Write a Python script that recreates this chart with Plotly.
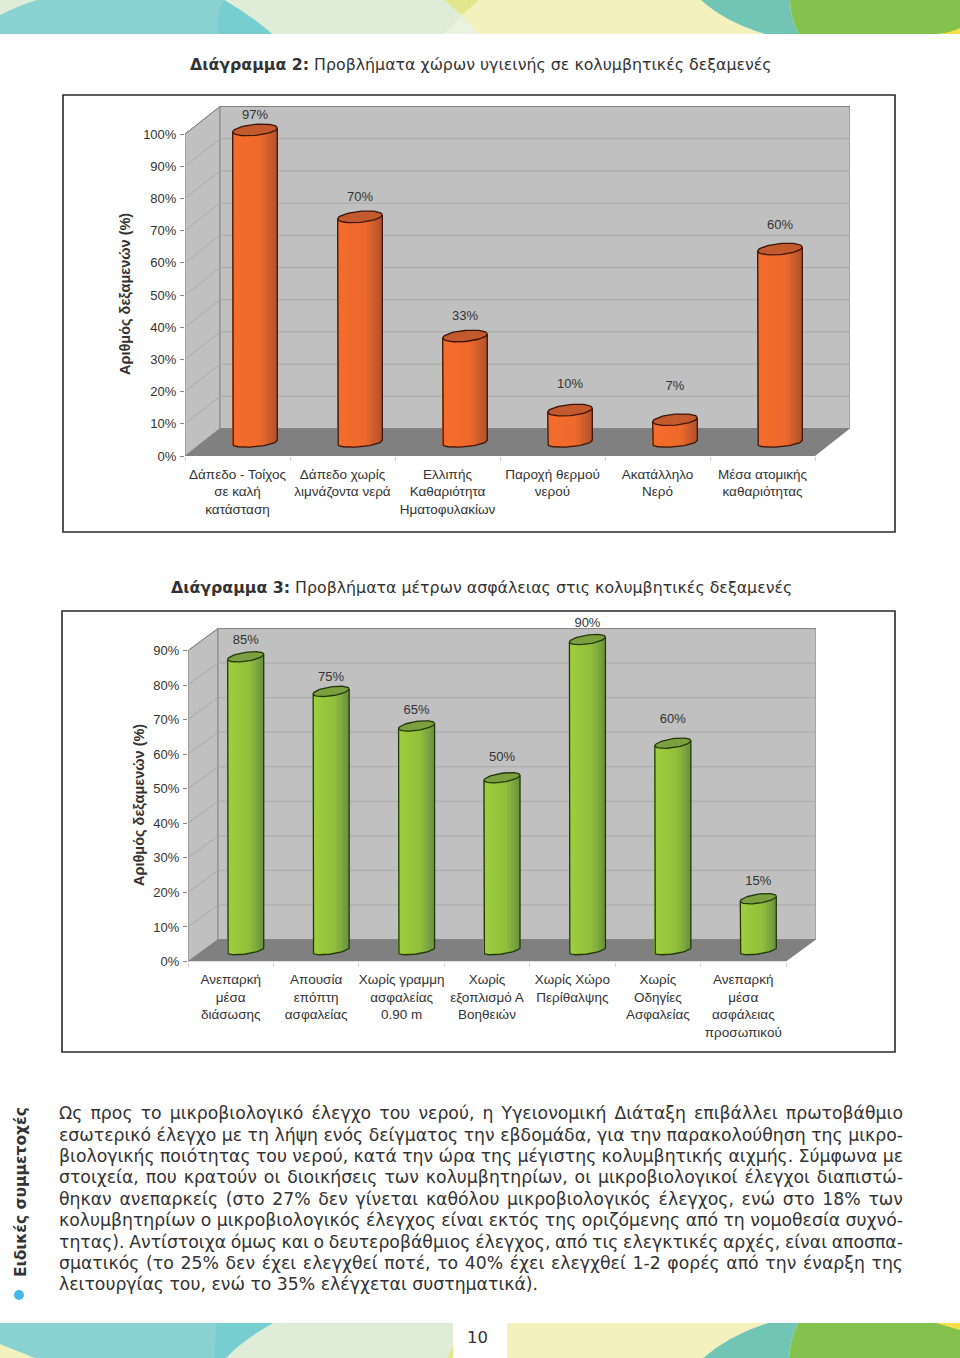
import json
import numpy as np
import plotly.graph_objects as go

# ---------- data ----------
CATS_A = ["Δάπεδο - Τοίχος<br>σε καλή<br>κατάσταση", "Δάπεδο χωρίς<br>λιμνάζοντα νερά",
          "Ελλιπής<br>Καθαριότητα<br>Ηματοφυλακίων", "Παροχή θερμού<br>νερού",
          "Ακατάλληλο<br>Νερό", "Μέσα ατομικής<br>καθαριότητας"]
VALUES_A = [97, 70, 33, 10, 7, 60]
TICKS_A = list(range(0, 101, 10))

CATS_B = ["Ανεπαρκή<br>μέσα<br>διάσωσης", "Απουσία<br>επόπτη<br>ασφαλείας",
          "Χωρίς γραμμη<br>ασφαλείας<br>0.90 m", "Χωρίς<br>εξοπλισμό Α<br>Βοηθειών",
          "Χωρίς Χώρο<br>Περίθαλψης", "Χωρίς<br>Οδηγίες<br>Ασφαλείας",
          "Ανεπαρκή<br>μέσα<br>ασφάλειας<br>προσωπικού"]
VALUES_B = [85, 75, 65, 50, 90, 60, 15]
TICKS_B = list(range(0, 91, 10))

TITLE_A = "<b>Διάγραμμα 2:</b> Προβλήματα χώρων υγιεινής σε κολυμβητικές δεξαμενές"
TITLE_B = "<b>Διάγραμμα 3:</b> Προβλήματα μέτρων ασφάλειας στις κολυμβητικές δεξαμενές"
AXIS_TITLE = "Αριθμός δεξαμενών (%)"
SIDE_TITLE = "<b>Ειδικές συμμετοχές</b>"
PAGE_NO = "10"
PARAGRAPH = [
    "Ως προς το μικροβιολογικό έλεγχο του νερού, η Υγειονομική Διάταξη επιβάλλει πρωτοβάθμιο",
    "εσωτερικό έλεγχο με τη λήψη ενός δείγματος την εβδομάδα, για την παρακολούθηση της μικρο-",
    "βιολογικής ποιότητας του νερού, κατά την ώρα της μέγιστης κολυμβητικής αιχμής. Σύμφωνα με",
    "στοιχεία, που κρατούν οι διοικήσεις των κολυμβητηρίων, οι μικροβιολογικοί έλεγχοι διαπιστώ-",
    "θηκαν ανεπαρκείς (στο 27% δεν γίνεται καθόλου μικροβιολογικός έλεγχος, ενώ στο 18% των",
    "κολυμβητηρίων ο μικροβιολογικός έλεγχος είναι εκτός της οριζόμενης από τη νομοθεσία συχνό-",
    "τητας). Αντίστοιχα όμως και ο δευτεροβάθμιος έλεγχος, από τις ελεγκτικές αρχές, είναι αποσπα-",
    "σματικός (το 25% δεν έχει ελεγχθεί ποτέ, το 40% έχει ελεγχθεί 1-2 φορές από την έναρξη της",
    "λειτουργίας του, ενώ το 35% ελέγχεται συστηματικά).",
]

# ---------- styles ----------
W, H = 960, 1358
PUSHED_BOTTOM = 8  # plotly reserves this much below the plot area here; the page clips it
TXT = "#333333"
ARIAL = "Liberation Sans"
VERD = "DejaVu Sans"
WALL, FLOOR, GRID, EDGE = "#C0C0C0", "#808080", "#A8A8A8", "#858585"
ORANGE = dict(stops=[(-1, "#F56D2C"), (0.25, "#EE6A2C"), (1, "#B2522D")], top="#C25A2E", line="#3A1408")
GREEN = dict(stops=[(-1, "#9FCF3C"), (0.25, "#92BF3D"), (1, "#6A9240")], top="#7C9F3F", line="#20380C")
LIFT_A = [14, 19, 19, 25, 33, 23]
LIFT_B = [16, 14, 15, 20, 16, 23, 17]
HEADROOM = 24
NSTRIP = 26


def hex2rgb(h):
    return np.array([int(h[i:i + 2], 16) for i in (1, 3, 5)], float)


def ramp(t, stops):
    for (a, ca), (b, cb) in zip(stops, stops[1:]):
        if t <= b:
            m = (t - a) / (b - a)
            c = hex2rgb(ca) * (1 - m) + hex2rgb(cb) * m
            return "rgb(%d,%d,%d)" % tuple(c)
    return stops[-1][1]


fig = go.Figure()
shapes, annos = [], []


def page_poly(path, color):
    shapes.append(dict(type="path", path=path, fillcolor=color, line=dict(width=0),
                       xref="x", yref="y", layer="below"))


def draw_chart(cats, vals, ticks, lifts, ax, geo, col):
    x0, x1, y0, py, dxp, dyp = geo["x0"], geo["x1"], geo["y0"], geo["py"], geo["dxp"], geo["dyp"]
    n = len(cats)
    cw = (x1 - x0) / n
    dx = dxp / cw
    dy = dyp / py
    xa, ya = f"x{ax}", f"y{ax}"
    ytop = y0 - geo["top"] * py - dyp - HEADROOM
    fig.update_layout(**{
        f"xaxis{ax}": dict(
            domain=[x0 / W, (x1 + dxp) / W], range=[-0.5, n - 0.5 + dx], anchor=ya,
            tickmode="array", tickvals=list(range(n)), ticktext=cats, ticks="", showgrid=False,
            zeroline=False, showline=False, tickangle=0, ticklabelstandoff=8,
            tickfont=dict(family=ARIAL, size=13.5, color=TXT),
            minor=dict(tickmode="array", tickvals=[i - 0.5 for i in range(n + 1)], ticks="outside",
                       ticklen=4, tickcolor="#D0D0D0", tickwidth=1, showgrid=False)),
        f"yaxis{ax}": dict(
            domain=[1 - y0 / H, 1 - ytop / H], range=[0, (y0 - ytop) / py], anchor=xa,
            tickmode="array", tickvals=ticks, ticktext=[f"{t}%" for t in ticks], ticks="outside",
            ticklen=4, tickcolor=EDGE, showgrid=False, zeroline=False, showline=False, ticklabelstandoff=1,
            tickfont=dict(family=ARIAL, size=13, color=TXT)),
    })
    L, R = -0.5, n - 0.5
    top = geo["top"]

    def poly(pts, color, lc=None):
        path = "M" + " L".join(f"{a},{b}" for a, b in pts) + " Z"
        shapes.append(dict(type="path", path=path, fillcolor=color, xref=xa, yref=ya, layer="below",
                           line=dict(width=1 if lc else 0, color=lc or color)))

    poly([(L, 0), (L + dx, dy), (L + dx, top + dy), (L, top)], WALL, EDGE)
    poly([(L + dx, dy), (R + dx, dy), (R + dx, top + dy), (L + dx, top + dy)], WALL, EDGE)
    for t in ticks[1:]:
        for a, b, c, d in [(L, t, L + dx, t + dy), (L + dx, t + dy, R + dx, t + dy)]:
            if t == top and a == L + dx:
                continue
            shapes.append(dict(type="line", x0=a, y0=b, x1=c, y1=d, xref=xa, yref=ya, layer="below",
                               line=dict(color=GRID if t != top else EDGE, width=1)))
    poly([(L, 0), (R, 0), (R + dx, dy), (L + dx, dy)], FLOOR)

    # cylinders
    r = geo["r"] / cw
    cxs = np.arange(n) + dx / 2
    v = np.array(vals, float)
    edges = np.linspace(-1, 1, NSTRIP + 1)
    bry, btilt = geo["bry"] / py, geo["tilt"] / py
    try_, ttilt = geo["try"] / py, geo["tilt"] / py
    base_c = dy / 2
    for k in range(NSTRIP):
        t = (edges[k] + edges[k + 1]) / 2
        wd = (edges[k + 1] - edges[k]) * r
        bt = base_c - bry * np.sqrt(max(0, 1 - t * t)) + btilt * t
        fig.add_trace(go.Bar(x=cxs + t * r, y=v + base_c + ttilt * t - bt, base=[bt] * n,
                             width=wd * 1.15, marker=dict(color=ramp(t, col["stops"]), line=dict(width=0)),
                             xaxis=xa, yaxis=ya, hoverinfo="skip", showlegend=False))
    th = np.linspace(0, 2 * np.pi, 61)
    ex, ey, ox, oy = [], [], [], []
    for c, val in zip(cxs, v):
        cy = val + base_c
        ex += list(c + r * np.cos(th)) + [None]
        ey += list(cy + try_ * np.sin(th) + ttilt * np.cos(th)) + [None]
        arc = np.linspace(np.pi, 2 * np.pi, 31)
        ox += [c - r] + list(c + r * np.cos(arc)) + [c + r, None]
        oy += [cy - ttilt] + list(base_c + bry * np.sin(arc) + btilt * np.cos(arc)) + [cy + ttilt, None]
    fig.add_trace(go.Scatter(x=ox, y=oy, mode="lines", line=dict(color=col["line"], width=1.3),
                             xaxis=xa, yaxis=ya, hoverinfo="skip", showlegend=False))
    fig.add_trace(go.Scatter(x=ex, y=ey, mode="lines", fill="toself", fillcolor=col["top"],
                             line=dict(color=col["line"], width=1.3), xaxis=xa, yaxis=ya,
                             hoverinfo="skip", showlegend=False))
    fig.add_trace(go.Scatter(x=cxs, y=v + base_c + np.array(lifts) / py, mode="text",
                             text=[f"{a}%" for a in vals], textposition="middle center",
                             textfont=dict(family=ARIAL, size=13, color=TXT), xaxis=xa, yaxis=ya,
                             hoverinfo="skip", showlegend=False, cliponaxis=False))


# ---------- page background (pixel-unit axes, first subplot so it stays underneath) ----------
fig.update_layout(
    xaxis=dict(domain=[0, 1], range=[0, W], visible=False, fixedrange=True, anchor="y"),
    yaxis=dict(domain=[0, 1], range=[H, 0], visible=False, fixedrange=True, anchor="x"),
)
fig.add_trace(go.Scatter(x=[0], y=[0], xaxis="x", yaxis="y", mode="markers", marker=dict(size=1, opacity=0),
                         hoverinfo="skip", showlegend=False))

P_GREEN, P_YEL, TEAL, TEAL2, TEAL3, LEAF = "#DFEDD8", "#F3F1BE", "#8AD2D2", "#77CDD0", "#72C4B4", "#84C14D"
# top banner
page_poly("M0,0 L470,0 L470,34 L0,34 Z", P_GREEN)
page_poly("M0,15 Q20,5 37,0 L224,0 Q250,15 272,34 L0,34 Z", TEAL)
page_poly("M224,0 Q215,18 219,34 L272,34 Q250,15 224,0 Z", TEAL2)
page_poly("M444,0 L480,0 L462,15 Z", "#E4E68D")
page_poly("M462,15 L444,34 L478,34 Z", "#E8F3E0")
page_poly("M462,15 L480,0 L701,0 Q725,22 765,34 L478,34 Z", P_YEL)
page_poly("M701,0 L790,0 Q790,18 799,34 L765,34 Q725,22 701,0 Z", TEAL3)
page_poly("M960,28 L960,34 L937,34 Z", "#F5E04A")
page_poly("M790,0 L960,0 L960,28 Q950,33 937,34 L799,34 Q790,18 790,0 Z", LEAF)
# bottom banner
page_poly("M0,1323 L453,1323 L453,1358 L0,1358 Z", P_GREEN)
page_poly("M0,1344 Q15,1350 35,1358 L0,1358 Z", P_YEL)
page_poly("M0,1323 L273,1323 Q235,1342 215,1358 L35,1358 Q15,1350 0,1344 Z", TEAL)
page_poly("M217,1323 L273,1323 Q240,1342 226,1358 L215,1358 Q214,1340 217,1323 Z", TEAL2)
page_poly("M453,1345 L453,1358 L447,1358 Z", "#E4E68D")
page_poly("M507,1323 L768,1323 Q730,1335 703,1358 L507,1358 Z", P_YEL)
page_poly("M768,1323 L798,1323 Q790,1340 789,1358 L703,1358 Q730,1335 768,1323 Z", TEAL3)
page_poly("M798,1323 L960,1323 L960,1358 L789,1358 Q790,1340 798,1323 Z", LEAF)
page_poly("M936,1323 L960,1323 L960,1330 Z", "#F5E04A")
# frames
for (a, b, c, d) in [(63, 95, 895, 532), (62, 611, 895, 1052)]:
    shapes.append(dict(type="rect", x0=a, y0=b, x1=c, y1=d, xref="x", yref="y", layer="below",
                       fillcolor="white", line=dict(color="#2A2A2A", width=1.6)))
# bullet
shapes.append(dict(type="circle", x0=14, y0=1290, x1=24, y1=1300, xref="x", yref="y", layer="below",
                   fillcolor="#45B6E8", line=dict(width=0)))

draw_chart(CATS_A, VALUES_A, TICKS_A, LIFT_A, 2,
           dict(x0=185, x1=815, y0=456, py=3.22, dxp=35, dyp=27.5, top=100, r=22.3, bry=4.5, **{"try": 5.5}, tilt=2),
           ORANGE)
draw_chart(CATS_B, VALUES_B, TICKS_B, LIFT_B, 3,
           dict(x0=188, x1=786, y0=961.5, py=3.455, dxp=30, dyp=22, top=90, r=18, bry=3.5, **{"try": 4.5}, tilt=2.5),
           GREEN)


def text(x, y, s, fam=ARIAL, size=13, anchor="center", angle=0, color=TXT):
    annos.append(dict(x=x, y=y, text=s, xref="x", yref="y", showarrow=False, xanchor=anchor, yanchor="middle",
                      align="left" if anchor == "left" else "center", textangle=angle,
                      font=dict(family=fam, size=size, color=color)))


text(481, 64, TITLE_A, VERD, 15.8)
text(481, 587, TITLE_B, VERD, 15.8)
text(125, 294, "<b>" + AXIS_TITLE + "</b>", ARIAL, 14.5, angle=-90)
text(139, 805, "<b>" + AXIS_TITLE + "</b>", ARIAL, 14.5, angle=-90)
text(21, 1192, SIDE_TITLE, VERD, 15.5, angle=-90)
text(477, 1337, PAGE_NO, VERD, 16.5)
LINE_Y = [1113, 1134.5, 1156, 1177, 1198.5, 1220, 1241.5, 1263, 1284]
for s, y in zip(PARAGRAPH, LINE_Y):
    text(57, y, s, VERD, 17.3, anchor="left")

fig.update_layout(width=W, height=H + PUSHED_BOTTOM, autosize=False, margin=dict(l=0, r=0, t=0, b=0),
                  paper_bgcolor="white", plot_bgcolor="rgba(0,0,0,0)", barmode="overlay",
                  showlegend=False, shapes=shapes, annotations=annos, hovermode=False)

JUST = PARAGRAPH[:-1]
post = """
document.documentElement.style.margin='0';document.documentElement.style.overflow='hidden';
document.body.style.margin='0';document.body.style.overflow='hidden';
var J=%s;
var gd=document.getElementById('{plot_id}');
gd.querySelectorAll('.annotation-text').forEach(function(t){
  var s=t.textContent;
  if(J.indexOf(s)>=0){
    var n=s.split(' ').length-1, l=t.getComputedTextLength();
    t.style.wordSpacing=((844-l)/n)+'px';
  }
});
""" % json.dumps(JUST, ensure_ascii=False)
fig.write_html("out.html", post_script=post, config=dict(displayModeBar=False))
